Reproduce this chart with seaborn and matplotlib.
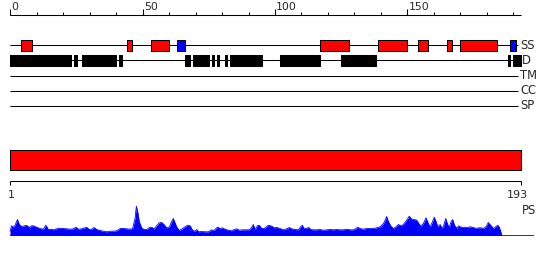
import numpy as np
import pandas as pd
import matplotlib
matplotlib.use("Agg")
import matplotlib.pyplot as plt
import seaborn as sns

# ---------------- data ----------------
seq_length = 193
ruler_ticks = list(range(0, 191, 10))
ruler_labels = [0, 50, 100, 150]

track_names = ["SS", "D", "TM", "CC", "SP"]

helix_start = [5, 45, 54, 118, 140, 155, 166, 171]
helix_end = [8, 46, 60, 128, 150, 158, 167, 184]
strand_start = [64, 190]
strand_end = [66, 191]

disorder_start = [1, 25, 28, 42, 67, 70, 77, 79, 82, 84, 103, 126, 189, 191]
disorder_end = [23, 25, 40, 42, 68, 75, 77, 79, 82, 95, 117, 138, 189, 193]

domain_start = [1]
domain_end = [193]

ps_pos = [1.0, 1.6, 2.3, 2.9, 3.8, 4.5, 5.4, 6.3, 7.3, 8.3,
          9.1, 9.8, 11.0, 12.3, 13.5, 14.5, 15.4, 16.3, 17.3, 18.5,
          19.8, 21.1, 22.3, 23.6, 24.8, 25.8, 26.7, 27.9, 29.2, 29.8,
          30.8, 31.7, 32.6, 33.6, 34.8, 36.1, 37.3, 38.6, 39.8, 41.1,
          42.4, 43.6, 44.9, 46.1, 47.1, 48.0, 48.5, 49.0, 49.6, 50.5,
          51.4, 52.4, 53.6, 54.5, 55.1, 56.1, 57.1, 58.0, 58.9, 59.9,
          60.9, 61.8, 62.4, 63.0, 63.7, 64.7, 65.5, 66.8, 67.8, 68.7,
          69.7, 70.6, 71.2, 71.9, 73.1, 74.3, 75.6, 76.8, 77.7, 78.7,
          79.3, 79.9, 80.9, 81.8, 83.1, 84.3, 85.3, 86.2, 87.2, 88.5,
          90.0, 91.0, 91.9, 92.5, 93.1, 94.0, 94.7, 95.6, 96.6, 97.5,
          98.2, 99.4, 100.3, 101.3, 102.5,
          103.8, 105.0, 106.0, 106.9, 108.1, 109.4, 110.3, 110.9, 111.5, 112.5,
          113.4, 114.0, 115.0, 116.3, 117.5, 118.8, 120.1, 121.3, 122.6, 123.8,
          125.1, 126.3, 127.8, 128.8, 130.1, 131.1, 131.7, 132.6, 133.8, 135.1,
          136.3, 137.6, 138.8, 140.1, 141.4, 142.0, 142.6, 143.2, 144.1, 145.1,
          146.1, 147.0, 147.9, 148.9, 150.1, 151.1, 152.0, 152.9, 153.9, 154.5,
          155.4, 156.4, 157.4, 158.0, 158.9, 159.7, 160.5, 161.2, 161.8, 162.7,
          163.3, 163.9, 164.8, 165.4, 166.1, 166.8, 167.4, 168.1, 169.0, 169.6,
          170.2, 171.2, 172.1, 173.0, 174.0, 175.2, 176.2, 177.1, 178.0, 179.0,
          180.0, 180.8, 181.7, 182.7, 183.7, 184.4, 185.0, 185.6, 185.9]
ps_val = [4, 9.7, 8.3, 10.3, 16, 11, 8.7, 9.7, 10, 8,
          9.7, 9.7, 8.3, 7, 6.3, 10.3, 6, 6.3, 5.7, 6.7,
          7.3, 7, 6.7, 6.3, 6.7, 8.3, 6.3, 6.7, 7.7, 8.3,
          6, 6.3, 8, 6, 5, 4.3, 3.7, 4.3, 4.3, 4.7,
          7, 7, 6.7, 6.3, 7, 17, 29.3, 23.7, 13.7, 7.7,
          6, 6, 8.3, 8, 6.3, 9.7, 12.7, 13, 11, 7.7,
          8.3, 14.3, 17, 13, 8.3, 5, 6.3, 8.7, 10.3, 9.7,
          5, 4.3, 6, 3.7, 4, 3.7, 3.7, 5.7, 5, 7.7,
          8.3, 6.7, 7.7, 6.3, 5.3, 4.7, 6, 6.7, 5.3, 5.7,
          5.7, 5.7, 8.3, 11, 5.7, 9.7, 10.3, 7, 7, 9,
          10.3, 9.3, 7.7, 8, 7,
          5.7, 6.7, 8, 6.7, 6, 5.7, 8.7, 10.3, 7, 7.3,
          8, 6, 5.7, 5.7, 6, 5.3, 5.7, 6, 5.7, 6,
          5.7, 5.7, 6.3, 5.7, 5.7, 7, 8.3, 7, 6.3, 7,
          7, 7, 7.7, 8.7, 12, 15.3, 19, 14.3, 9.7, 7,
          8.7, 11, 9.7, 11, 15.3, 19.3, 16.3, 16, 15.3, 12.7,
          9.3, 12, 17.7, 13.7, 8.3, 13, 18.3, 13.7, 8.7, 11,
          7.7, 8.7, 17, 12, 7.7, 13.7, 16, 10.3, 7, 9.7,
          8.7, 8, 8.3, 8, 8.7, 8, 7, 7.7, 7.7, 7,
          9, 13, 10.3, 7, 9, 10.3, 8, 3, 0]
ps_track_end = 198

# ---------------- style ----------------
sns.set_style("white")
plt.rcParams["font.family"] = ["DejaVu Sans"]

W, H, DPI = 550, 260, 100
fig = plt.figure(figsize=(W / DPI, H / DPI), dpi=DPI)

px_per_res = 2.645
x0_px = 10.5
xlim = (-x0_px / px_per_res, (W - x0_px) / px_per_res)

ax = fig.add_axes([0, 0, 1, 1])
ax.set_xlim(*xlim)
ax.set_ylim(H, 0)
ax.axis("off")

LW = 0.75
# ruler
ruler_y = 14.7
ax.hlines(ruler_y, 0, seq_length, color="black", lw=LW)
ax.vlines(ruler_ticks, ruler_y - 2.4, ruler_y, color="black", lw=LW)
ax.vlines(ruler_labels, ruler_y - 5.4, ruler_y, color="black", lw=LW)
for t in ruler_labels:
    ax.text(t + 0.4, 9.8, str(t), ha="left", va="baseline", fontsize=7.8)

# tracks
track_y = [45.3, 60.3, 75.5, 90.5, 105.5]
label_x = [seq_length - 0.4, seq_length + 0.5, seq_length - 0.4,
           seq_length - 0.4, seq_length - 0.4]
for name, y, lx in zip(track_names, track_y, label_x):
    ax.hlines(y, 0, seq_length - 1, color="black", lw=LW, zorder=1)
    ax.text(lx, y, name, ha="left", va="center", fontsize=8.3, zorder=3)

box_h = 10.7
ax.broken_barh([(s - 1, e - s + 1) for s, e in zip(helix_start, helix_end)],
               (track_y[0] - box_h / 2, box_h), facecolors="#ff0000",
               edgecolors="black", linewidth=LW, zorder=2)
ax.broken_barh([(s - 1, e - s + 1) for s, e in zip(strand_start, strand_end)],
               (track_y[0] - box_h / 2, box_h), facecolors="#0000ff",
               edgecolors="black", linewidth=LW, zorder=2)
ax.broken_barh([(s - 1, e - s + 1) for s, e in zip(disorder_start, disorder_end)],
               (track_y[1] - box_h / 2, box_h), facecolors="black",
               edgecolors="black", linewidth=LW, zorder=2)

# domain bar
ax.broken_barh([(s - 1, e - s + 1) for s, e in zip(domain_start, domain_end)],
               (150.3, 19.7), facecolors="#ff0000", edgecolors="black",
               linewidth=LW, zorder=2)
axis_y = 180.7
ax.hlines(axis_y, 0, seq_length, color="black", lw=LW)
ax.vlines([0, seq_length], axis_y, axis_y + 4.5, color="black", lw=LW)
ax.text(0.4, 195, "1", ha="center", va="center", fontsize=8)
ax.text(seq_length - 1.2, 195, str(seq_length), ha="center", va="center", fontsize=8)

# PS label
ax.text(seq_length + 0.3, 211, "PS", ha="left", va="center", fontsize=8.3)

# PS profile panel
base_px = 235.5
ps_h = 32
ps_ax = fig.add_axes([0, (H - base_px) / H, 1, ps_h / H])
ps_ax.set_xlim(-7.34 / 2.66, (W - 7.34) / 2.66)
ps_ax.set_ylim(0, ps_h)
ps_ax.axis("off")
df = pd.DataFrame({"pos": ps_pos, "score": ps_val})
sns.lineplot(data=df, x="pos", y="score", ax=ps_ax, color="#0000ff", lw=0.6)
ps_ax.fill_between(df["pos"], 0, df["score"], color="#0000ff", lw=0)
ps_ax.hlines(0, ps_pos[0], ps_track_end, color="#0000ff", lw=1.2)
ps_ax.set_xlabel("")
ps_ax.set_ylabel("")

fig.savefig("out.png", dpi=DPI)
